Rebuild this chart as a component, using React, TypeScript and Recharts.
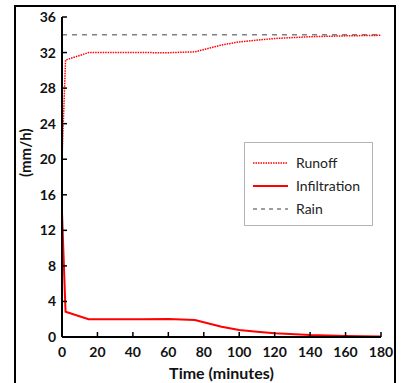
import React from 'react'
import { LineChart, Line, XAxis, YAxis } from 'recharts'

const time = [0, 2, 15, 30, 45, 60, 75, 90, 100, 110, 120, 140, 160, 180]
const runoff = [20, 31.15, 32.0, 32.0, 32.0, 31.98, 32.08, 32.85, 33.2, 33.4, 33.58, 33.78, 33.88, 33.94]
const infiltration = [14, 2.85, 2.0, 2.0, 2.0, 2.02, 1.92, 1.15, 0.8, 0.6, 0.42, 0.22, 0.12, 0.06]
const rain = [34, 34, 34, 34, 34, 34, 34, 34, 34, 34, 34, 34, 34, 34]

const xTicks = [0, 20, 40, 60, 80, 100, 120, 140, 160, 180]
const yTicks = [0, 4, 8, 12, 16, 20, 24, 28, 32, 36]

const data = time.map((t, i) => ({
  t,
  runoff: runoff[i],
  infiltration: infiltration[i],
  rain: rain[i],
}))

const FONT = 'Lato, "Open Sans", sans-serif'

const legendItems = [
  { name: 'Runoff', color: '#ff0000', dash: '1.5 1', width: 1.5 },
  { name: 'Infiltration', color: '#ff0000', dash: undefined, width: 2 },
  { name: 'Rain', color: '#808080', dash: '4 4', width: 1.5 },
]

function LegendBox() {
  return (
    <div
      style={{
        position: 'absolute',
        left: 244,
        top: 142,
        boxSizing: 'border-box',
        width: 129,
        height: 84,
        border: '1px solid #b4b4b4',
        background: '#fff',
        paddingTop: 8,
        fontFamily: FONT,
      }}
    >
      {legendItems.map((it) => (
        <div key={it.name} style={{ display: 'flex', alignItems: 'center', height: 23 }}>
          <svg width={51} height={10} style={{ display: 'block' }}>
            <line x1={8} x2={43} y1={5} y2={5} stroke={it.color} strokeWidth={it.width} strokeDasharray={it.dash} />
          </svg>
          <span style={{ fontSize: 14, color: '#222' }}>{it.name}</span>
        </div>
      ))}
    </div>
  )
}

export default function App() {
  return (
    <div style={{ position: 'fixed', left: 0, top: 0, width: 401, height: 383, overflow: 'hidden', background: '#fff' }}>
      <div style={{ position: 'absolute', left: 0, top: 0 }}>
        <LineChart width={401} height={383} data={data} margin={{ top: 17, right: 20, bottom: 0, left: 0 }}>
          <XAxis
            dataKey="t"
            type="number"
            domain={[0, 180]}
            ticks={xTicks}
            height={46}
            tickSize={-5}
            tickMargin={15}
            axisLine={{ stroke: '#000', strokeWidth: 2 }}
            tickLine={{ stroke: '#000', strokeWidth: 1.5 }}
            tick={{ fill: '#111', fontSize: 14, fontWeight: 700, fontFamily: FONT }}
            label={{
              value: 'Time (minutes)',
              position: 'insideBottom',
              offset: 4,
              fill: '#111',
              fontSize: 16,
              fontWeight: 700,
              fontFamily: FONT,
            }}
          />
          <YAxis
            type="number"
            domain={[0, 36]}
            ticks={yTicks}
            width={62}
            tickSize={-5}
            tickMargin={11}
            axisLine={{ stroke: '#000', strokeWidth: 2 }}
            tickLine={{ stroke: '#000', strokeWidth: 1.5 }}
            tick={{ fill: '#111', fontSize: 14, fontWeight: 700, fontFamily: FONT }}
            label={{
              value: '(mm/h)',
              angle: -90,
              position: 'insideLeft',
              offset: 0,
              dx: 26,
              fill: '#111',
              fontSize: 15,
              fontWeight: 700,
              fontFamily: FONT,
            }}
          />
          <Line
            dataKey="rain"
            name="Rain"
            stroke="#808080"
            strokeWidth={1.5}
            strokeDasharray="5 5"
            dot={false}
            isAnimationActive={false}
          />
          <Line
            dataKey="runoff"
            name="Runoff"
            stroke="#ff0000"
            strokeWidth={1.5}
            strokeDasharray="1.5 1"
            dot={false}
            isAnimationActive={false}
          />
          <Line
            dataKey="infiltration"
            name="Infiltration"
            stroke="#ff0000"
            strokeWidth={2}
            dot={false}
            isAnimationActive={false}
          />
        </LineChart>
      </div>
      <LegendBox />
      <div
        style={{
          position: 'absolute',
          boxSizing: 'border-box',
          left: 14,
          top: 5,
          width: 382,
          height: 400,
          border: '2px solid #000',
          borderBottom: 'none',
          pointerEvents: 'none',
        }}
      />
    </div>
  )
}
